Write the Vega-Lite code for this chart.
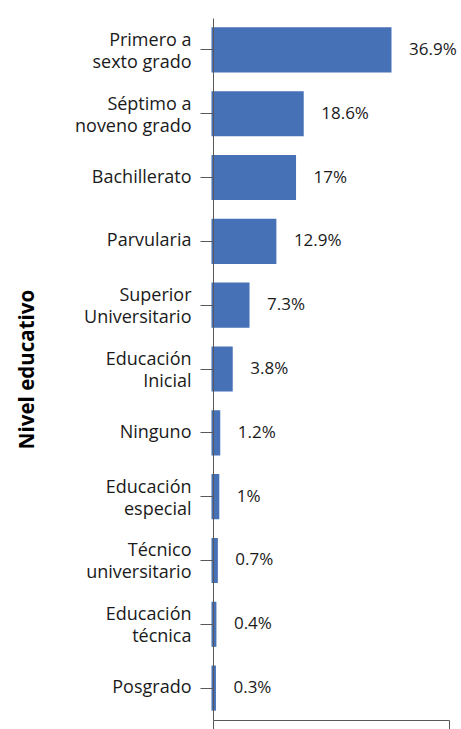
{
  "$schema": "https://vega.github.io/schema/vega-lite/v6.json",
  "autosize": {"type": "none"},
  "width": 236,
  "height": 702,
  "padding": {"left": 213, "top": 18, "right": 12, "bottom": 9},
  "background": "white",
  "config": {"view": {"stroke": null}, "font": "Open Sans"},
  "data": {
    "values": [
      {"nivel": "Primero a\nsexto grado", "pct": 36.9},
      {"nivel": "Séptimo a\nnoveno grado", "pct": 18.6},
      {"nivel": "Bachillerato", "pct": 17},
      {"nivel": "Parvularia", "pct": 12.9},
      {"nivel": "Superior\nUniversitario", "pct": 7.3},
      {"nivel": "Educación\nInicial", "pct": 3.8},
      {"nivel": "Ninguno", "pct": 1.2},
      {"nivel": "Educación\nespecial", "pct": 1},
      {"nivel": "Técnico\nuniversitario", "pct": 0.7},
      {"nivel": "Educación\ntécnica", "pct": 0.4},
      {"nivel": "Posgrado", "pct": 0.3}
    ]
  },
  "transform": [{"calculate": "datum.pct + '%'", "as": "etiqueta"}],
  "encoding": {
    "y": {
      "field": "nivel",
      "type": "nominal",
      "sort": null,
      "scale": {"paddingInner": 0.34, "paddingOuter": 0.17},
      "axis": {
        "title": "Nivel educativo",
        "titleFont": "Open Sans",
        "titleFontSize": 20.5,
        "titleFontWeight": "bold",
        "titleColor": "#000000",
        "titleBaseline": "alphabetic",
        "titleX": -180,
        "labelExpr": "split(datum.label, '\\n')",
        "labelFont": "Open Sans",
        "labelFontSize": 18,
        "labelLineHeight": 22,
        "labelOffset": {"condition": {"test": "indexof(datum.value, '\\n') >= 0", "value": -9}, "value": 0},
        "labelColor": "#1a1a1a",
        "labelPadding": 9,
        "tickSize": 13,
        "tickColor": "#595959",
        "domainColor": "#595959",
        "grid": false,
        "zindex": 1
      }
    },
    "x": {
      "field": "pct",
      "type": "quantitative",
      "scale": {"domain": [0, 49.2], "nice": false},
      "axis": {
        "title": null,
        "labels": false,
        "values": [0, 49.2],
        "tickSize": 9,
        "tickColor": "#595959",
        "domainColor": "#595959",
        "grid": false
      }
    }
  },
  "layer": [
    {"mark": {"type": "bar", "color": "#4671b7", "stroke": "#4671b7", "strokeWidth": 3}},
    {
      "mark": {"type": "text", "align": "left", "baseline": "middle", "dx": 19, "fontSize": 17, "font": "Open Sans", "color": "#1a1a1a"},
      "encoding": {"text": {"field": "etiqueta"}}
    }
  ]
}
